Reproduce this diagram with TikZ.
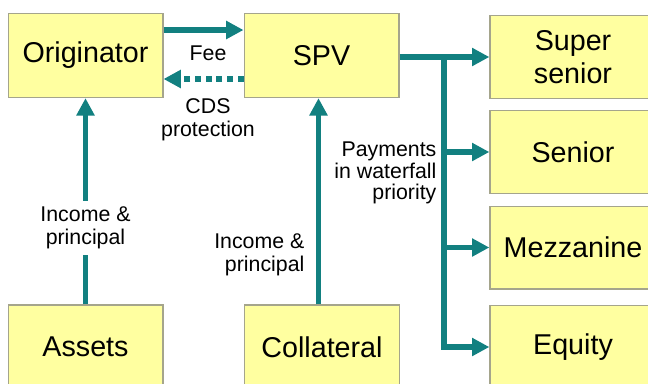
\documentclass[tikz,border=0pt]{standalone}
\usepackage{fontspec}
\setmainfont{Liberation Sans}
\usetikzlibrary{arrows.meta,calc}

\definecolor{flowteal}{RGB}{18,128,128}
\definecolor{boxfill}{RGB}{255,255,160}
\definecolor{boxline}{RGB}{165,165,140}

\tikzset{
  party/.style={draw=boxline, fill=boxfill, line width=1pt, inner sep=0pt,
    minimum width=116pt, minimum height=63pt, align=center,
    font=\fontsize{21.5}{25}\selectfont},
  tranche/.style={party, minimum width=124.5pt, minimum height=62pt},
  flow/.style={draw=flowteal, line width=4pt, -{Triangle[length=13pt,width=13pt]}},
  lbl/.style={align=center, inner sep=1pt, font=\fontsize{16}{17.5}\selectfont},
}

\begin{document}
\begin{tikzpicture}[x=0.75pt,y=-0.75pt]

    % --- Frame (picture size in pixels) ---
    \clip (0,0) rectangle (648,383);

    % --- Parties ---
    \node[party] (orig) at (85.5,55.5) {Originator};
    \node[party] (spv) at (321.5,55.5) {SPV};
    \node[party] (assets) at (85.5,347) {Assets};
    \node[party] (coll) at (322,347) {Collateral};

    % --- Tranches ---
    \node[tranche] (super) at (573,57) {Super\\senior};
    \node[tranche] (senior) at (573,152) {Senior};
    \node[tranche] (mezz) at (573,247.5) {Mezzanine};
    \node[tranche] (equity) at (573,347) {Equity};

    % --- Fee and CDS protection ---
    \draw[flow] ($(orig.east)+(0,-25.5)$) -- ($(spv.west)+(0,-25.5)$);
    \draw[flow, dash pattern=on 4.5pt off 3.5pt] ($(spv.west)+(0,23.5)$) -- ($(orig.east)+(0,23.5)$);
    \node[lbl] (fee) at (208,53) {Fee};
    \node[lbl] (cds) at (208,120) {CDS\\protection};

    % --- Income from assets and collateral ---
    \draw[flow] (assets) -- node[lbl, fill=white, inner sep=4pt, pos=0.37] (inc1) {Income \&\\principal} (orig);
    \draw[flow] ($(coll.north)+(-3.5,0)$) -- ($(spv.south)+(-3,0)$);
    \node[lbl, anchor=east, align=right] (inc2) at (306,255) {Income \&\\principal};

    % --- Waterfall to the tranches ---
    \coordinate (bus) at (444,0);
    \draw[flow] (spv.east |- super) -- (super);
    \draw[flow] (bus |- super) -- (bus |- equity) -- (equity);
    \draw[flow] (bus |- senior) -- (senior);
    \draw[flow] (bus |- mezz) -- (mezz);
    \node[lbl, anchor=east, align=right, font=\fontsize{16}{16}\selectfont] (pay) at (438,173) {Payments\\in waterfall\\priority};

\end{tikzpicture}
\end{document}
